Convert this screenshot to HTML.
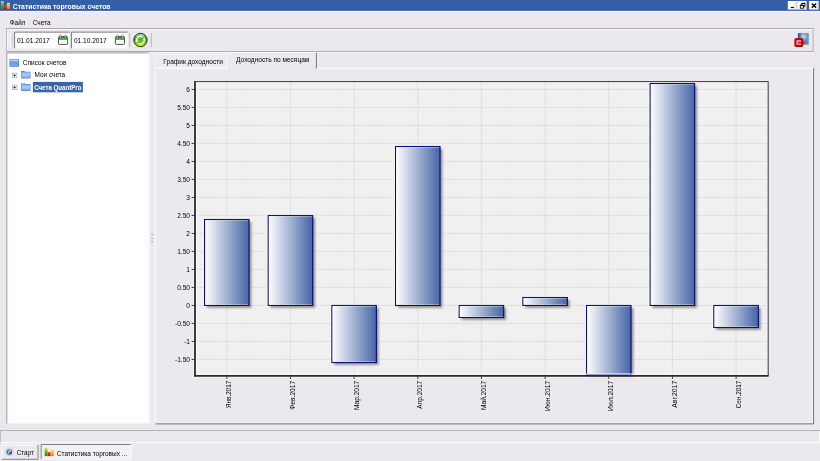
<!DOCTYPE html>
<html><head><meta charset="utf-8">
<style>
html,body{margin:0;padding:0;width:820px;height:461px;overflow:hidden;background:#EBE9ED;}
svg{display:block;will-change:transform;font-family:"Liberation Sans",sans-serif;}
</style></head>
<body>
<svg width="820" height="461" viewBox="0 0 820 461">
<defs>
<linearGradient id="bar" x1="0" y1="0" x2="1" y2="0">
<stop offset="0" stop-color="#FFFFFF"/>
<stop offset="1" stop-color="#4565A5"/>
</linearGradient>
<filter id="sh" x="-20%" y="-20%" width="140%" height="140%">
<feGaussianBlur stdDeviation="0.8"/>
</filter>
<radialGradient id="rg" cx="0.45" cy="0.35" r="0.7">
<stop offset="0" stop-color="#7ED957"/>
<stop offset="0.6" stop-color="#4DB51E"/>
<stop offset="1" stop-color="#D8E000"/>
</radialGradient>
<linearGradient id="rg2" x1="0" y1="0" x2="0" y2="1">
<stop offset="0" stop-color="#5CB880"/>
<stop offset="0.35" stop-color="#4CAE2C"/>
<stop offset="0.7" stop-color="#7CC818"/>
<stop offset="1" stop-color="#EEF000"/>
</linearGradient>
<linearGradient id="exitb" x1="0" y1="0" x2="1" y2="0">
<stop offset="0" stop-color="#27558C"/>
<stop offset="0.6" stop-color="#4C7EB4"/>
<stop offset="1" stop-color="#6E9AC6"/>
</linearGradient>
<radialGradient id="exitr" cx="0.5" cy="0.3" r="0.45">
<stop offset="0" stop-color="#FFFFFF" stop-opacity="0.75"/>
<stop offset="1" stop-color="#FFFFFF" stop-opacity="0"/>
</radialGradient>
<linearGradient id="ig" x1="0" y1="0" x2="0" y2="1"><stop offset="0" stop-color="#C8E040"/><stop offset="0.5" stop-color="#58B020"/><stop offset="1" stop-color="#2E8A14"/></linearGradient>
<linearGradient id="ir" x1="0" y1="0" x2="0" y2="1"><stop offset="0" stop-color="#F04030"/><stop offset="1" stop-color="#C01008"/></linearGradient>
<linearGradient id="io" x1="0" y1="0" x2="0" y2="1"><stop offset="0" stop-color="#FFE040"/><stop offset="0.6" stop-color="#F8A818"/><stop offset="1" stop-color="#F08010"/></linearGradient>
<radialGradient id="stb" cx="0.4" cy="0.35" r="0.7"><stop offset="0" stop-color="#5A90E8"/><stop offset="1" stop-color="#0A3CA8"/></radialGradient>
<linearGradient id="calg" x1="0" y1="0" x2="0" y2="1"><stop offset="0" stop-color="#1E8A1E"/><stop offset="0.5" stop-color="#3CB034"/><stop offset="1" stop-color="#52C040"/></linearGradient>
<linearGradient id="fold" x1="0" y1="0" x2="0" y2="1"><stop offset="0" stop-color="#94BCF0"/><stop offset="0.5" stop-color="#A8C8F4"/><stop offset="1" stop-color="#7AA6E6"/></linearGradient>
</defs>

<!-- title bar -->
<rect x="0" y="0" width="820" height="10.85" fill="#335EA8"/>
<rect x="0" y="9.9" width="820" height="0.95" fill="#2D58A2"/>
<rect x="0" y="10.85" width="820" height="1.1" fill="#FBF6EF"/>
<!-- app icon -->
<g>
<rect x="0.9" y="1.1" width="2.9" height="7.8" fill="url(#ig)"/>
<rect x="3.9" y="5.1" width="2.9" height="3.8" fill="url(#ir)"/>
<rect x="6.9" y="2.8" width="3" height="6.1" fill="url(#io)"/>
</g>
<text x="12.8" y="8.55" font-size="6.7" font-weight="bold" fill="#FFFFFF" textLength="97.8" lengthAdjust="spacingAndGlyphs">Статистика торговых счетов</text>
<!-- caption buttons -->
<g>
<rect x="787.8" y="1" width="18.9" height="8.8" fill="#FFFFFF"/>
<rect x="794.5" y="1.6" width="2.2" height="7.6" fill="#E8E6EC"/>
<rect x="804.6" y="1.6" width="2.1" height="7.6" fill="#E8E6EC"/>
<rect x="787.8" y="9.1" width="18.9" height="0.7" fill="#A8A498"/>
<rect x="796.6" y="1" width="0.8" height="8.8" fill="#C8C4BC"/>
<rect x="806.2" y="1" width="0.6" height="8.8" fill="#A8A498"/>
<rect x="790.8" y="6.9" width="3.1" height="1.2" fill="#000"/>
<rect x="800.3" y="5.2" width="3.1" height="3" fill="none" stroke="#000" stroke-width="0.9"/>
<rect x="800.3" y="4.9" width="3.1" height="0.9" fill="#000"/>
<path d="M801.7 4.9 V3.3 H804.9 V6.6 H803.4" fill="none" stroke="#000" stroke-width="0.9"/>
<rect x="801.7" y="3.1" width="3.2" height="0.9" fill="#000"/>
<rect x="809" y="1" width="9.8" height="8.8" fill="#FFFFFF"/>
<rect x="816.6" y="1.6" width="2" height="7.6" fill="#E8E6EC"/>
<rect x="809" y="9.1" width="9.8" height="0.7" fill="#A8A498"/>
<rect x="818.2" y="1" width="0.6" height="8.8" fill="#A8A498"/>
<path d="M811.9 3.5 L816.1 7.7 M816.1 3.5 L811.9 7.7" stroke="#000" stroke-width="1.35"/>
</g>

<!-- menu -->
<text x="9.8" y="25.2" font-size="6.6" fill="#000" textLength="15.6" lengthAdjust="spacingAndGlyphs">Файл</text>
<text x="32.8" y="25.2" font-size="6.6" fill="#000" textLength="17.7" lengthAdjust="spacingAndGlyphs">Счета</text>

<!-- toolbar -->
<rect x="6" y="28" width="807.4" height="1" fill="#ABABAF"/>
<rect x="6" y="28" width="0.9" height="23.6" fill="#ABABAF"/>
<rect x="812.6" y="28" width="0.9" height="23.6" fill="#ABABAF"/>
<rect x="6" y="51" width="807.4" height="1" fill="#A9A9AD"/>
<rect x="6.9" y="29" width="805.7" height="0.9" fill="#FAFAFC"/>
<rect x="6.9" y="29" width="0.8" height="22" fill="#FAFAFC"/>
<!-- grip -->
<rect x="10" y="32.8" width="2.4" height="14.7" rx="0.8" fill="#F2F1F5"/>
<path d="M10.3 33.3 V47.1" stroke="#FFFFFF" stroke-width="0.6"/>
<path d="M12.1 33.4 V47" stroke="#A4A4A8" stroke-width="0.6"/>
<!-- date field 1 -->
<rect x="14.2" y="31.4" width="55.5" height="17" fill="#FFFFFF"/>
<path d="M14.6 48.3 V32.1 H69.7" fill="none" stroke="#646466" stroke-width="0.9"/>
<text x="16.9" y="43.2" font-size="6.8" fill="#000" textLength="32.9" lengthAdjust="spacingAndGlyphs">01.01.2017</text>
<!-- date field 2 -->
<rect x="71" y="31.4" width="56.6" height="17" fill="#FFFFFF"/>
<path d="M71.4 48.3 V32.1 H127.6" fill="none" stroke="#646466" stroke-width="0.9"/>
<text x="73.9" y="43.2" font-size="6.8" fill="#000" textLength="32.9" lengthAdjust="spacingAndGlyphs">01.10.2017</text>
<!-- calendar icons -->
<g id="cal1">
<rect x="58.5" y="36.5" width="9.1" height="7.9" rx="0.9" fill="#FFFFFF" stroke="#262626" stroke-width="0.8"/>
<rect x="58.9" y="36.9" width="8.3" height="3.1" fill="url(#calg)"/>
<path d="M59.6 42.2 H66.6" stroke="#E8E0EE" stroke-width="0.5"/>
<rect x="59.9" y="35.1" width="1.2" height="2.8" rx="0.5" fill="#F4ECF4" stroke="#3A3A3A" stroke-width="0.45"/>
<rect x="64.9" y="35.1" width="1.2" height="2.8" rx="0.5" fill="#F4ECF4" stroke="#3A3A3A" stroke-width="0.45"/>
</g>
<g transform="translate(56.9,0)">
<rect x="58.5" y="36.5" width="9.1" height="7.9" rx="0.9" fill="#FFFFFF" stroke="#262626" stroke-width="0.8"/>
<rect x="58.9" y="36.9" width="8.3" height="3.1" fill="url(#calg)"/>
<path d="M59.6 42.2 H66.6" stroke="#E8E0EE" stroke-width="0.5"/>
<rect x="59.9" y="35.1" width="1.2" height="2.8" rx="0.5" fill="#F4ECF4" stroke="#3A3A3A" stroke-width="0.45"/>
<rect x="64.9" y="35.1" width="1.2" height="2.8" rx="0.5" fill="#F4ECF4" stroke="#3A3A3A" stroke-width="0.45"/>
</g>
<!-- separators -->
<line x1="129.7" y1="33" x2="129.7" y2="47" stroke="#A8A8AC" stroke-width="0.7"/>
<line x1="151.4" y1="33" x2="151.4" y2="47" stroke="#A8A8AC" stroke-width="0.7"/>
<!-- refresh -->
<circle cx="140.45" cy="40" r="7.3" fill="#FFFFFF" opacity="0.6"/>
<circle cx="140.45" cy="40" r="6.7" fill="url(#rg2)" stroke="#0F3A08" stroke-width="1.0"/>
<ellipse cx="140.45" cy="36" rx="4.2" ry="2.2" fill="#B8F0C8" opacity="0.45"/>
<path d="M136.8 41 A3.8 3.8 0 0 1 142.5 36.8" fill="none" stroke="#FFFFFF" stroke-width="1.2"/>
<path d="M144.1 39 A3.8 3.8 0 0 1 138.4 43.2" fill="none" stroke="#FFFFFF" stroke-width="1.2"/>
<path d="M135.4 40.2 L138.2 40.2 L136.8 42.4 Z" fill="#FFFFFF"/>
<path d="M145.5 39.8 L142.7 39.8 L144.1 37.6 Z" fill="#FFFFFF"/>
<!-- exit icon -->
<rect x="797.9" y="33.1" width="10.9" height="11.6" fill="url(#exitb)"/>
<rect x="797.9" y="33.1" width="10.9" height="11.6" fill="url(#exitr)"/>
<rect x="795.4" y="39.1" width="6.8" height="6.8" rx="0.7" fill="#B8C8DA" stroke="#D00000" stroke-width="2.1"/>
<path d="M797.8 42.6 H802.2" stroke="#E00000" stroke-width="1.6"/>
<path d="M801.2 40.8 L804.8 42.5 L801.2 44.3 Z" fill="#E00000"/>

<!-- tree panel -->
<rect x="6.5" y="52.5" width="142.3" height="371" fill="#FFFFFF"/>
<path d="M6.8 423.5 V52.9 H148.8" fill="none" stroke="#9C9CA0" stroke-width="1.0"/>
<path d="M7.2 423.6 H149 V53" fill="none" stroke="#E6EEF4" stroke-width="0.6"/>
<!-- root icon -->
<rect x="9.5" y="59" width="9.5" height="7.7" rx="0.8" fill="#3C7CD4"/>
<rect x="10.1" y="59.6" width="8.3" height="1.8" fill="#C4DAF6"/>
<rect x="10.1" y="62.3" width="8.3" height="1.2" fill="#90B6EE"/>
<rect x="10.1" y="64.4" width="8.3" height="1.4" fill="#90B6EE"/>
<text x="22.8" y="64.6" font-size="6.6" fill="#000" textLength="43.7" lengthAdjust="spacingAndGlyphs">Список счетов</text>
<!-- plus boxes -->
<g>
<rect x="12.3" y="73.1" width="4.6" height="4.6" fill="#FFFFFF" stroke="#8EA0B8" stroke-width="0.6"/>
<path d="M13.4 75.4 H15.8 M14.6 74.2 V76.6" stroke="#000" stroke-width="0.7"/>
<rect x="12.3" y="85.1" width="4.6" height="4.6" fill="#FFFFFF" stroke="#8EA0B8" stroke-width="0.6"/>
<path d="M13.4 87.4 H15.8 M14.6 86.2 V88.6" stroke="#000" stroke-width="0.7"/>
</g>
<!-- folders -->
<g>
<path d="M21.1 71 H24.6 L25.4 71.7 H30.5 V78.5 H21.1 Z" fill="#4E88D8"/>
<rect x="21.7" y="72.3" width="8.2" height="5.6" fill="url(#fold)"/>
<path d="M21.1 83.3 H24.6 L25.4 84 H30.5 V91 H21.1 Z" fill="#4E88D8"/>
<rect x="21.7" y="84.7" width="8.2" height="5.7" fill="url(#fold)"/>
<path d="M21.8 83.9 H24.2" stroke="#DDEAF8" stroke-width="0.6"/>
</g>
<text x="34.5" y="76.9" font-size="6.6" fill="#000" textLength="30.7" lengthAdjust="spacingAndGlyphs">Мои счета</text>
<rect x="32.9" y="81.9" width="50" height="10.4" fill="#3A64AA"/>
<text x="34.2" y="90.1" font-size="6.5" font-weight="bold" fill="#FFFFFF" textLength="47.2" lengthAdjust="spacingAndGlyphs">Счета QuantPro</text>

<!-- splitter grip -->
<g fill="#8C8C92">
<circle cx="152.1" cy="234.8" r="0.7"/>
<circle cx="152.1" cy="238.4" r="0.7"/>
<circle cx="152.1" cy="241.8" r="0.7"/>
</g>

<!-- tab control -->
<path d="M149.6 424 V52.4 H813" fill="none" stroke="#FAFAFC" stroke-width="0.6"/>
<rect x="155" y="54.1" width="72" height="14" fill="#ECEBF0" stroke="#F8F8FA" stroke-width="0.6"/>
<text x="163.3" y="63.8" font-size="6.6" fill="#000" textLength="59.7" lengthAdjust="spacingAndGlyphs">График доходности</text>
<path d="M227.2 68.4 V52.6 H316.3 V68.4" fill="#EBE9ED" stroke="none"/>
<line x1="227.3" y1="68.4" x2="227.3" y2="52.6" stroke="#FFFFFF" stroke-width="0.7"/>
<line x1="227.3" y1="52.7" x2="316" y2="52.7" stroke="#FFFFFF" stroke-width="0.7"/>
<line x1="316.4" y1="52.7" x2="316.4" y2="68.7" stroke="#5E5E62" stroke-width="0.8"/>
<text x="236.1" y="62.35" font-size="6.6" fill="#000" textLength="73.2" lengthAdjust="spacingAndGlyphs">Доходность по месяцам</text>
<!-- tab panel -->
<path d="M155.3 423.6 V68.3 H227.3 M316.8 68.3 H813.4" fill="none" stroke="#FFFFFF" stroke-width="0.9"/>
<path d="M812.6 68.6 V422.9 H155.8" fill="none" stroke="#FAFAFC" stroke-width="0.6"/>
<path d="M813.6 68 V423.9 H155.3" fill="none" stroke="#6E6E72" stroke-width="0.95"/>

<!-- plot area -->
<rect x="195" y="81.6" width="573" height="294.4" fill="#F0F0F0"/>
<!-- grid -->
<g stroke="#C0C0C0" stroke-width="0.8" stroke-dasharray="0.9 1.2">
<line x1="196" y1="89.45" x2="767.5" y2="89.45"/>
<line x1="196" y1="107.45" x2="767.5" y2="107.45"/>
<line x1="196" y1="125.45" x2="767.5" y2="125.45"/>
<line x1="196" y1="143.45" x2="767.5" y2="143.45"/>
<line x1="196" y1="161.45" x2="767.5" y2="161.45"/>
<line x1="196" y1="179.45" x2="767.5" y2="179.45"/>
<line x1="196" y1="197.45" x2="767.5" y2="197.45"/>
<line x1="196" y1="215.45" x2="767.5" y2="215.45"/>
<line x1="196" y1="233.45" x2="767.5" y2="233.45"/>
<line x1="196" y1="251.45" x2="767.5" y2="251.45"/>
<line x1="196" y1="269.45" x2="767.5" y2="269.45"/>
<line x1="196" y1="287.45" x2="767.5" y2="287.45"/>
<line x1="196" y1="305.45" x2="767.5" y2="305.45"/>
<line x1="196" y1="323.45" x2="767.5" y2="323.45"/>
<line x1="196" y1="341.45" x2="767.5" y2="341.45"/>
<line x1="196" y1="359.45" x2="767.5" y2="359.45"/>
<line x1="226.80" y1="82" x2="226.80" y2="375"/>
<line x1="290.46" y1="82" x2="290.46" y2="375"/>
<line x1="354.12" y1="82" x2="354.12" y2="375"/>
<line x1="417.78" y1="82" x2="417.78" y2="375"/>
<line x1="481.44" y1="82" x2="481.44" y2="375"/>
<line x1="545.10" y1="82" x2="545.10" y2="375"/>
<line x1="608.76" y1="82" x2="608.76" y2="375"/>
<line x1="672.42" y1="82" x2="672.42" y2="375"/>
<line x1="736.08" y1="82" x2="736.08" y2="375"/>
</g>

<g fill="none" stroke="#FFFFF6" stroke-width="0.8">
<rect x="203.65" y="218.60" width="46.30" height="87.75"/>
<rect x="267.31" y="214.60" width="46.30" height="91.75"/>
<rect x="330.97" y="304.55" width="46.30" height="58.85"/>
<rect x="394.63" y="145.60" width="46.30" height="160.75"/>
<rect x="458.29" y="304.55" width="46.30" height="13.85"/>
<rect x="521.95" y="296.60" width="46.30" height="9.75"/>
<rect x="585.61" y="304.55" width="46.30" height="70.85"/>
<rect x="649.27" y="82.60" width="46.30" height="223.75"/>
<rect x="712.93" y="304.55" width="46.30" height="23.85"/>
</g>
<!-- bars: shadows -->
<g fill="#72726A" opacity="0.75" filter="url(#sh)">
<rect x="206.95" y="221.90" width="44.50" height="85.95"/>
<rect x="270.61" y="217.90" width="44.50" height="89.95"/>
<rect x="334.27" y="307.85" width="44.50" height="57.05"/>
<rect x="397.93" y="148.90" width="44.50" height="158.95"/>
<rect x="461.59" y="307.85" width="44.50" height="12.05"/>
<rect x="525.25" y="299.90" width="44.50" height="7.95"/>
<rect x="588.91" y="307.85" width="44.50" height="69.05"/>
<rect x="652.57" y="85.90" width="44.50" height="221.95"/>
<rect x="716.23" y="307.85" width="44.50" height="22.05"/>
</g>
<!-- bars -->
<g fill="url(#bar)" stroke="#0A0A84" stroke-width="1.15">
<rect x="204.55" y="219.50" width="44.50" height="85.95"/>
<rect x="268.21" y="215.50" width="44.50" height="89.95"/>
<rect x="331.87" y="305.45" width="44.50" height="57.05"/>
<rect x="395.53" y="146.50" width="44.50" height="158.95"/>
<rect x="459.19" y="305.45" width="44.50" height="12.05"/>
<rect x="522.85" y="297.50" width="44.50" height="7.95"/>
<rect x="586.51" y="305.45" width="44.50" height="69.05"/>
<rect x="650.17" y="83.50" width="44.50" height="221.95"/>
<rect x="713.83" y="305.45" width="44.50" height="22.05"/>
</g>
<g fill="none" stroke="#FFFFFF" stroke-width="0.7" opacity="0.55">
<path d="M205.50 304.50 V220.45 H248.10 M205.50 304.50 H248.10"/>
<path d="M269.16 304.50 V216.45 H311.76 M269.16 304.50 H311.76"/>
<path d="M332.82 361.55 V306.40 H375.42 M332.82 361.55 H375.42"/>
<path d="M396.48 304.50 V147.45 H439.08 M396.48 304.50 H439.08"/>
<path d="M460.14 316.55 V306.40 H502.74 M460.14 316.55 H502.74"/>
<path d="M523.80 304.50 V298.45 H566.40 M523.80 304.50 H566.40"/>
<path d="M587.46 373.55 V306.40 H630.06 M587.46 373.55 H630.06"/>
<path d="M651.12 304.50 V84.45 H693.72 M651.12 304.50 H693.72"/>
<path d="M714.78 326.55 V306.40 H757.38 M714.78 326.55 H757.38"/>
</g>

<!-- axes -->
<rect x="196.2" y="82.2" width="1" height="292.2" fill="#FBFBFB"/>
<rect x="196.2" y="373.6" width="571.4" height="1" fill="#FBFBFB"/>
<rect x="193" y="81" width="0.8" height="297" fill="#F6F6F8"/>
<rect x="193" y="377.2" width="576" height="0.8" fill="#F6F6F8"/>
<line x1="195" y1="81" x2="195" y2="376.6" stroke="#2A2A2A" stroke-width="1.8"/>
<line x1="194.1" y1="375.8" x2="768.6" y2="375.8" stroke="#2A2A2A" stroke-width="1.8"/>
<line x1="195" y1="81.6" x2="768.2" y2="81.6" stroke="#3A3A3A" stroke-width="1"/>
<line x1="768.2" y1="81.2" x2="768.2" y2="376" stroke="#3A3A3A" stroke-width="1"/>

<!-- y ticks -->
<g stroke="#1E1E1E" stroke-width="0.85">
<line x1="191.6" y1="89.45" x2="194.2" y2="89.45"/>
<line x1="191.6" y1="107.45" x2="194.2" y2="107.45"/>
<line x1="191.6" y1="125.45" x2="194.2" y2="125.45"/>
<line x1="191.6" y1="143.45" x2="194.2" y2="143.45"/>
<line x1="191.6" y1="161.45" x2="194.2" y2="161.45"/>
<line x1="191.6" y1="179.45" x2="194.2" y2="179.45"/>
<line x1="191.6" y1="197.45" x2="194.2" y2="197.45"/>
<line x1="191.6" y1="215.45" x2="194.2" y2="215.45"/>
<line x1="191.6" y1="233.45" x2="194.2" y2="233.45"/>
<line x1="191.6" y1="251.45" x2="194.2" y2="251.45"/>
<line x1="191.6" y1="269.45" x2="194.2" y2="269.45"/>
<line x1="191.6" y1="287.45" x2="194.2" y2="287.45"/>
<line x1="191.6" y1="305.45" x2="194.2" y2="305.45"/>
<line x1="191.6" y1="323.45" x2="194.2" y2="323.45"/>
<line x1="191.6" y1="341.45" x2="194.2" y2="341.45"/>
<line x1="191.6" y1="359.45" x2="194.2" y2="359.45"/>
</g>
<!-- x ticks -->
<g stroke="#1E1E1E" stroke-width="0.85">
<line x1="226.80" y1="376.6" x2="226.80" y2="379"/>
<line x1="290.46" y1="376.6" x2="290.46" y2="379"/>
<line x1="354.12" y1="376.6" x2="354.12" y2="379"/>
<line x1="417.78" y1="376.6" x2="417.78" y2="379"/>
<line x1="481.44" y1="376.6" x2="481.44" y2="379"/>
<line x1="545.10" y1="376.6" x2="545.10" y2="379"/>
<line x1="608.76" y1="376.6" x2="608.76" y2="379"/>
<line x1="672.42" y1="376.6" x2="672.42" y2="379"/>
<line x1="736.08" y1="376.6" x2="736.08" y2="379"/>
</g>
<!-- y labels -->
<g font-size="6.6" fill="#000" text-anchor="end">
<text x="190.0" y="92.05">6</text>
<text x="190.0" y="110.05">5.50</text>
<text x="190.0" y="128.05">5</text>
<text x="190.0" y="146.05">4.50</text>
<text x="190.0" y="164.05">4</text>
<text x="190.0" y="182.05">3.50</text>
<text x="190.0" y="200.05">3</text>
<text x="190.0" y="218.05">2.50</text>
<text x="190.0" y="236.05">2</text>
<text x="190.0" y="254.05">1.50</text>
<text x="190.0" y="272.05">1</text>
<text x="190.0" y="290.05">0.50</text>
<text x="190.0" y="308.05">0</text>
<text x="190.0" y="326.05">-0.50</text>
<text x="190.0" y="344.05">-1</text>
<text x="190.0" y="362.05">-1.50</text>
</g>
<!-- x labels -->
<g font-size="6.6" fill="#000" text-anchor="end">
<text transform="translate(231.30,380.8) rotate(-90)" textLength="27.2" lengthAdjust="spacingAndGlyphs">Янв.2017</text>
<text transform="translate(294.96,380.8) rotate(-90)" textLength="28.9" lengthAdjust="spacingAndGlyphs">Фев.2017</text>
<text transform="translate(358.62,380.8) rotate(-90)" textLength="29.2" lengthAdjust="spacingAndGlyphs">Мар.2017</text>
<text transform="translate(422.28,380.8) rotate(-90)" textLength="27.9" lengthAdjust="spacingAndGlyphs">Апр.2017</text>
<text transform="translate(485.94,380.8) rotate(-90)" textLength="29.2" lengthAdjust="spacingAndGlyphs">Май.2017</text>
<text transform="translate(549.60,380.8) rotate(-90)" textLength="30.2" lengthAdjust="spacingAndGlyphs">Июн.2017</text>
<text transform="translate(613.26,380.8) rotate(-90)" textLength="30.2" lengthAdjust="spacingAndGlyphs">Июл.2017</text>
<text transform="translate(676.92,380.8) rotate(-90)" textLength="27.0" lengthAdjust="spacingAndGlyphs">Авг.2017</text>
<text transform="translate(740.58,380.8) rotate(-90)" textLength="27.4" lengthAdjust="spacingAndGlyphs">Сен.2017</text>
</g>

<!-- status bar -->
<rect x="0" y="430.2" width="820" height="0.9" fill="#A8A8AC"/>
<rect x="0" y="431.1" width="819" height="11.2" fill="#EAE9EE"/>
<rect x="0" y="442.2" width="820" height="0.8" fill="#FFFFFF"/>
<rect x="819" y="431" width="0.8" height="11.4" fill="#FFFFFF"/>
<rect x="0" y="431" width="0.7" height="11.4" fill="#A8A8AC"/>

<!-- taskbar -->
<rect x="1.7" y="444.9" width="36.5" height="14.4" fill="#EBE9ED"/>
<path d="M1.9 459.3 V445.1 H38" fill="none" stroke="#FFFFFF" stroke-width="0.7"/>
<path d="M38 445 V459.3 H1.7" fill="none" stroke="#6A6A70" stroke-width="0.8"/>
<circle cx="9.3" cy="451.9" r="3.9" fill="#F6F6F8" stroke="#B4B4BC" stroke-width="0.7"/>
<circle cx="9.3" cy="451.9" r="2.75" fill="url(#stb)"/>
<path d="M8.2 453.9 Q8.3 451.3 10.4 450.9" fill="none" stroke="#FFFFFF" stroke-width="0.7"/>
<path d="M9.7 449.9 L11.2 450.8 L9.9 451.9 Z" fill="#FFFFFF"/>
<text x="16.7" y="454.9" font-size="6.6" fill="#000" textLength="17.2" lengthAdjust="spacingAndGlyphs">Старт</text>

<rect x="40.9" y="444.2" width="90.4" height="15.2" fill="#F2F1F4"/>
<path d="M41.2 459.4 V444.5 H131" fill="none" stroke="#6A6A70" stroke-width="0.8"/>
<path d="M131.2 444.5 V459.3 H41" fill="none" stroke="#FFFFFF" stroke-width="0.7"/>
<rect x="44.6" y="448.2" width="2.9" height="7.9" fill="url(#ig)"/>
<rect x="47.6" y="452.1" width="3" height="4" fill="url(#ir)"/>
<rect x="50.7" y="449.8" width="3.1" height="6.3" fill="url(#io)"/>
<text x="56.8" y="455.7" font-size="6.6" fill="#000" textLength="70.4" lengthAdjust="spacingAndGlyphs">Статистика торговых ...</text>
</svg>
</body></html>
